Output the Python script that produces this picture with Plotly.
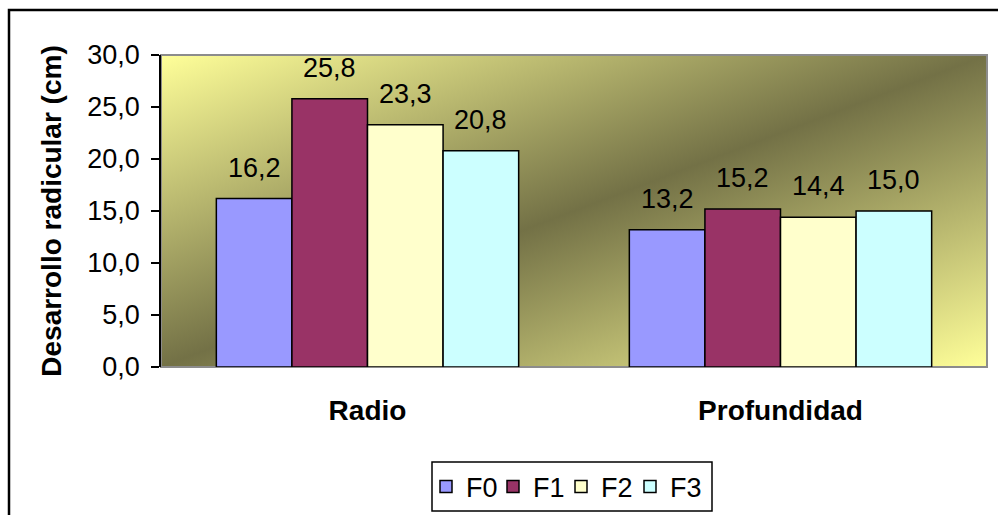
import base64
import plotly.graph_objects as go

# Root development measurements (cm) per treatment
categories = ["Radio", "Profundidad"]
series_names = ["F0", "F1", "F2", "F3"]
values_f0 = [16.2, 13.2]
values_f1 = [25.8, 15.2]
values_f2 = [23.3, 14.4]
values_f3 = [20.8, 15.0]
series_values = [values_f0, values_f1, values_f2, values_f3]
series_colors = ["#9999FF", "#993366", "#FFFFCC", "#CCFFFF"]
y_ticks = [0, 5, 10, 15, 20, 25, 30]

W, H = 998, 515
M_L, M_R, M_T, M_B = 161, 11, 55, 148
PW, PH = W - M_L - M_R, H - M_T - M_B
BARGAP = 0.268
FONT = "Arial, Liberation Sans"
LEGEND_LEFT = [426, 493, 561, 630]  # left edge of each legend entry (px)


def px_x(p):
    return (p - M_L) / PW


def px_y(p):
    return 1 - (p - M_T) / PH


legend_ids = ["legend"] + [f"legend{k}" for k in range(2, len(series_names) + 1)]

fig = go.Figure()
for name, vals, color, lg in zip(series_names, series_values, series_colors, legend_ids):
    fig.add_trace(go.Bar(
        name=name, x=categories, y=vals, legend=lg,
        marker=dict(color=color, line=dict(color="black", width=1.5)),
        hoverinfo="x+y+name",
    ))

# value labels above each bar
bar_w = (1 - BARGAP) / len(series_names)
annotations = []
for j, vals in enumerate(series_values):
    for i, v in enumerate(vals):
        annotations.append(dict(
            x=i + (j - (len(series_names) - 1) / 2) * bar_w, y=v,
            xref="x", yref="y", text=f"{v:.1f}".replace(".", ","),
            showarrow=False, yanchor="bottom", yshift=14,
            font=dict(family=FONT, size=27, color="black"),
        ))

# diagonal gradient fill of the plotting area
svg = (
    '<svg xmlns="http://www.w3.org/2000/svg" width="400" height="400" '
    'viewBox="0 0 100 100" preserveAspectRatio="none">'
    '<defs><linearGradient id="g" x1="0" y1="0" x2="1" y2="1">'
    '<stop offset="0" stop-color="#FFFF99"/>'
    '<stop offset="0.5" stop-color="#737146"/>'
    '<stop offset="1" stop-color="#FFFF99"/>'
    '</linearGradient></defs>'
    '<rect width="100" height="100" fill="url(#g)"/></svg>'
)
bg_src = "data:image/svg+xml;base64," + base64.b64encode(svg.encode()).decode()

shapes = [
    # plot-area frame
    dict(type="rect", xref="paper", yref="paper", x0=0, x1=1, y0=0, y1=1,
         line=dict(color="#8C8C8C", width=2), layer="below"),
    # chart frame
    dict(type="rect", xref="paper", yref="paper",
         x0=px_x(9), x1=px_x(1012), y0=px_y(530), y1=px_y(10),
         line=dict(color="black", width=2.5)),
    # legend frame
    dict(type="rect", xref="paper", yref="paper",
         x0=px_x(432), x1=px_x(712), y0=px_y(511), y1=px_y(462),
         line=dict(color="black", width=1.5)),
]

legend_style = dict(orientation="h", xanchor="left", y=px_y(487),
                    yanchor="middle", bgcolor="rgba(0,0,0,0)", borderwidth=0,
                    font=dict(size=27, family=FONT), itemwidth=30)
legends = {lg: dict(legend_style, x=px_x(left))
           for lg, left in zip(legend_ids, LEGEND_LEFT)}

fig.update_layout(
    width=W, height=H,
    margin=dict(l=M_L, r=M_R, t=M_T, b=M_B, autoexpand=False),
    paper_bgcolor="white", plot_bgcolor="rgba(0,0,0,0)",
    separators=",.",
    barmode="group", bargap=BARGAP, bargroupgap=0,
    font=dict(family=FONT, color="black"),
    images=[dict(source=bg_src, xref="paper", yref="paper", x=0, y=1,
                 sizex=1, sizey=1, sizing="stretch", xanchor="left",
                 yanchor="top", layer="below")],
    shapes=shapes,
    annotations=annotations,
    showlegend=True,
    **legends,
    xaxis=dict(showline=False, ticks="", showgrid=False,
               tickvals=categories,
               ticktext=[f"<b>{c}</b>" for c in categories],
               tickfont=dict(size=28, family=FONT),
               ticklabelstandoff=24),
    yaxis=dict(range=[0, 30], tickvals=y_ticks, tickformat=".1f",
               showline=True, linecolor="black", linewidth=1.5,
               ticks="outside", ticklen=8, tickwidth=1.5, tickcolor="black",
               showgrid=False, zeroline=False,
               tickfont=dict(size=27, family=FONT), ticklabelstandoff=6,
               title=dict(text="<b>Desarrollo radicular (cm)</b>",
                          font=dict(size=28, family=FONT), standoff=17)),
)

fig.write_html("out.html")
